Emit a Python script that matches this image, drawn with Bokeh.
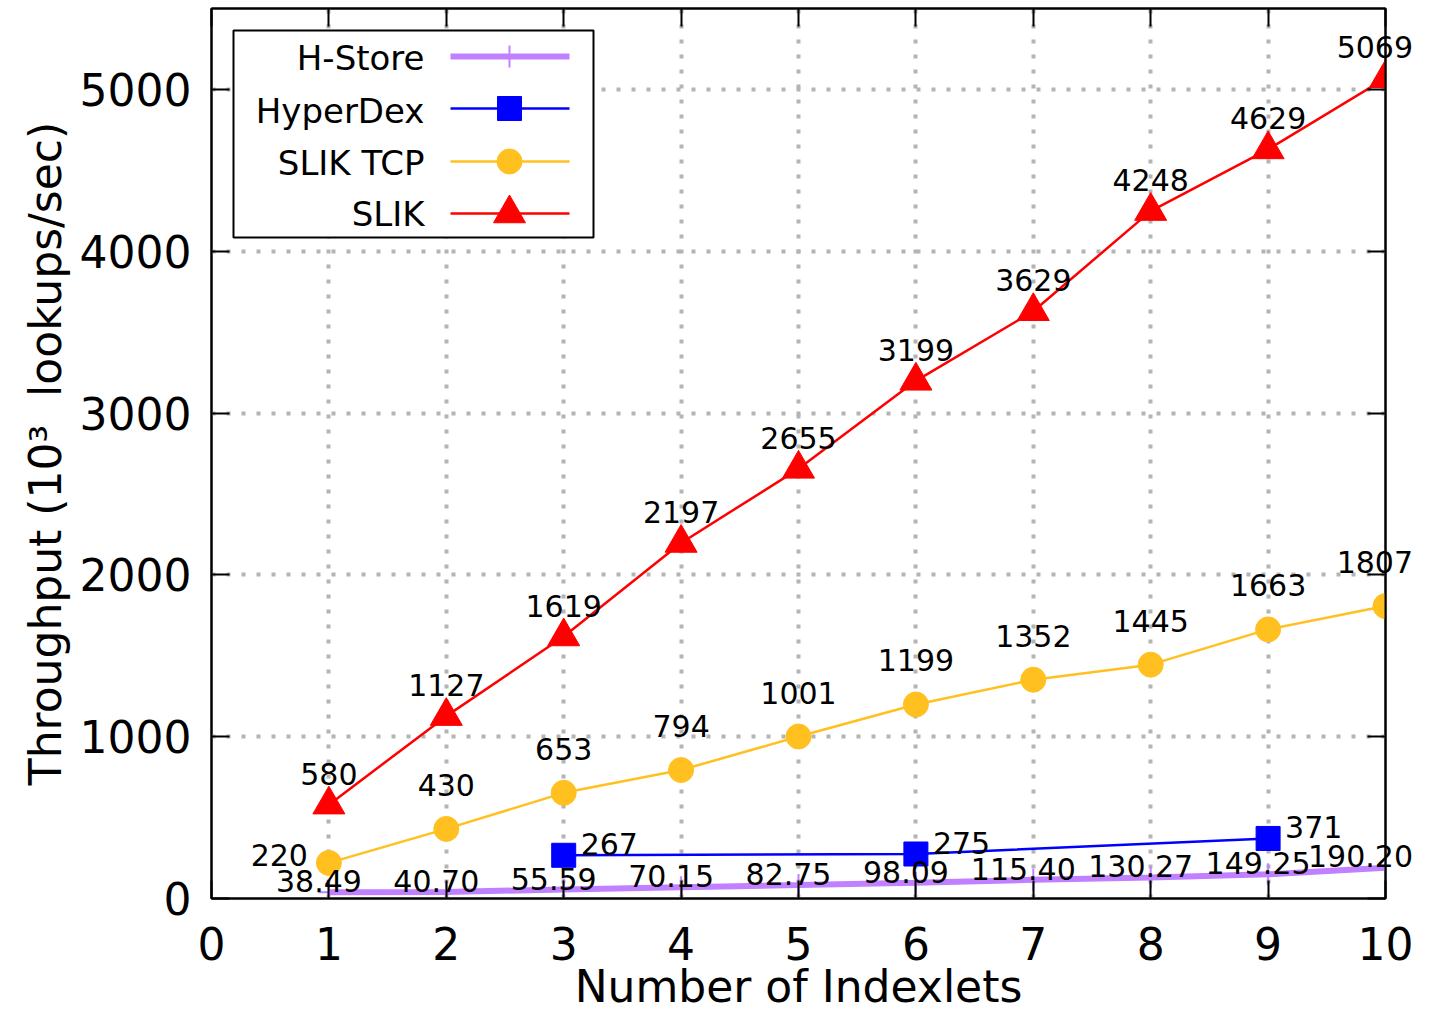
from bokeh.plotting import figure
from bokeh.models import FixedTicker, LinearAxis, ColumnDataSource, LabelSet
from bokeh.core.properties import value
from bokeh.embed import file_html
from bokeh.resources import INLINE
try:
    from bokeh.models import HTMLLabelSet
except Exception:  # fallback
    HTMLLabelSet = None

# ---------------- data ----------------
indexlets = [1, 2, 3, 4, 5, 6, 7, 8, 9, 10]
hstore = [38.49, 40.70, 55.59, 70.15, 82.75, 98.09, 115.40, 130.27, 149.25, 190.20]
hyperdex_x = [3, 6, 9]
hyperdex = [267, 275, 371]
slik_tcp = [220, 430, 653, 794, 1001, 1199, 1352, 1445, 1663, 1807]
slik = [580, 1127, 1619, 2197, 2655, 3199, 3629, 4248, 4629, 5069]
x_ticks = [0, 1, 2, 3, 4, 5, 6, 7, 8, 9, 10]
y_ticks = [0, 1000, 2000, 3000, 4000, 5000]
series_names = ["H-Store", "HyperDex", "SLIK TCP", "SLIK"]
x_title = "Number of Indexlets"
y_title = "Throughput (10\u00b3\u00a0 lookups/sec)"

# ---------------- style ----------------
FONT = "DejaVu Sans"
PURPLE = "#c080ff"
BLUE = "#0000ff"
GOLD = "#ffc020"
RED = "#ff0000"
GRID = "#b4b4b4"

W, H = 1415, 1014
XMIN, XMAX = 0, 10
YMIN, YMAX = 0, 5500
# frame position on the canvas (px)
FL, FR, FT, FB = 211, 1385, 8, 898


def dx(sx):
    return XMIN + (sx - FL) / (FR - FL) * (XMAX - XMIN)


def dy(sy):
    return YMIN + (FB - sy) / (FB - FT) * (YMAX - YMIN)


p = figure(width=W, height=H, x_range=(XMIN, XMAX), y_range=(YMIN, YMAX),
           output_backend="svg", toolbar_location=None,
           min_border_left=FL, min_border_right=W - FR,
           min_border_top=FT, min_border_bottom=H - FB)
p.background_fill_color = "white"
p.border_fill_color = "white"
p.outline_line_color = "black"
p.outline_line_width = 2

for ax in (p.xaxis[0], p.yaxis[0]):
    ax.major_label_text_font = FONT
    ax.major_label_text_font_size = "44px"
    ax.major_label_text_color = "black"
    ax.major_tick_in = 18
    ax.major_tick_out = 0
    ax.major_tick_line_width = 2
    ax.minor_tick_line_color = None
    ax.axis_line_width = 2
    ax.axis_label_text_font = FONT
    ax.axis_label_text_font_size = "44px"
    ax.axis_label_text_font_style = "normal"
    ax.axis_label_text_color = "black"

p.xaxis.ticker = FixedTicker(ticks=x_ticks)
p.yaxis.ticker = FixedTicker(ticks=y_ticks)
p.xaxis.major_label_standoff = 28
p.xaxis.axis_label = x_title
p.xaxis.axis_label_standoff = -2
p.yaxis.major_label_standoff = 20
p.yaxis.axis_label = y_title
p.yaxis.axis_label_standoff = 6

# mirror ticks (top / right), no labels
top = LinearAxis(ticker=FixedTicker(ticks=x_ticks))
right = LinearAxis(ticker=FixedTicker(ticks=y_ticks))
for ax in (top, right):
    ax.major_label_text_font_size = "1px"
    ax.major_label_text_color = None
    ax.major_label_standoff = 0
    ax.major_tick_in = 18
    ax.major_tick_out = 0
    ax.major_tick_line_width = 2
    ax.minor_tick_line_color = None
    ax.axis_line_width = 2
p.add_layout(top, "above")
p.add_layout(right, "right")

for g in (p.xgrid[0], p.ygrid[0]):
    g.grid_line_color = GRID
    g.grid_line_width = 4
    g.grid_line_dash = "4 11"
p.xgrid.ticker = FixedTicker(ticks=x_ticks)
p.ygrid.ticker = FixedTicker(ticks=y_ticks)

# ---------------- series ----------------
p.line(indexlets, hstore, line_color=PURPLE, line_width=6)
p.scatter(indexlets, hstore, marker="cross", size=22, line_color=PURPLE, line_width=2)

p.line(hyperdex_x, hyperdex, line_color=BLUE, line_width=2.5)
p.scatter(hyperdex_x, hyperdex, marker="square", size=24, fill_color=BLUE, line_color=BLUE)

p.line(indexlets, slik_tcp, line_color=GOLD, line_width=2.5)
p.scatter(indexlets, slik_tcp, marker="circle", size=25, fill_color=GOLD, line_color=GOLD)

p.line(indexlets, slik, line_color=RED, line_width=2.5)
p.scatter(indexlets, slik, marker="triangle", size=32, fill_color=RED, line_color=RED)

# ---------------- value labels ----------------
LBL = dict(text_font=value(FONT), text_font_size="30px", text_color="black",
           text_baseline="alphabetic")
HTML_DY = 11  # html labels sit a little lower than canvas labels for the same baseline


def labels(xs, ys, texts, align, xo, yo, html=False):
    src = ColumnDataSource(dict(x=xs, y=ys, t=texts))
    if html and HTMLLabelSet is not None:
        p.add_layout(HTMLLabelSet(x="x", y="y", text="t", source=src, text_align=align,
                                  x_offset=xo, y_offset=yo + HTML_DY, **LBL))
    else:
        p.add_layout(LabelSet(x="x", y="y", text="t", source=src, text_align=align,
                              x_offset=xo, y_offset=yo, **LBL))


# points inside the frame: canvas labels; points on the right edge: html labels (not clipped by frame)
h_txt = ["%.2f" % v for v in hstore]
t_txt = [str(v) for v in slik_tcp]
s_txt = [str(v) for v in slik]
labels(indexlets[:-1], hstore[:-1], h_txt[:-1], "center", -10, 0)
labels(indexlets[-1:], hstore[-1:], h_txt[-1:], "right", 28, 0, html=True)
labels(hyperdex_x, hyperdex, [str(v) for v in hyperdex], "left", 17, 0)
labels(indexlets[:1], slik_tcp[:1], t_txt[:1], "right", -21, -3)
labels(indexlets[1:-1], slik_tcp[1:-1], t_txt[1:-1], "center", 0, 33)
labels(indexlets[-1:], slik_tcp[-1:], t_txt[-1:], "right", 28, 33, html=True)
labels(indexlets[:-1], slik[:-1], s_txt[:-1], "center", 0, 20)
labels(indexlets[-1:], slik[-1:], s_txt[-1:], "right", 28, 20, html=True)

# ---------------- legend (gnuplot style: text left, sample right) ----------------
BOX_L, BOX_R, BOX_T, BOX_B = 233, 593, 30, 237
ROW_BASE = [69, 122, 174, 225]
ROW_LINE = [56, 108, 161, 213]
TEXT_R = 424
SAMPLE_L, SAMPLE_R, SAMPLE_M = 450, 569, 509

p.quad(left=[dx(BOX_L)], right=[dx(BOX_R)], top=[dy(BOX_T)], bottom=[dy(BOX_B)],
       fill_color="white", line_color="black", line_width=2)

styles = [
    dict(color=PURPLE, lw=6, marker="cross", size=22, mlw=2),
    dict(color=BLUE, lw=2.5, marker="square", size=24, mlw=1),
    dict(color=GOLD, lw=2.5, marker="circle", size=25, mlw=1),
    dict(color=RED, lw=2.5, marker="triangle", size=32, mlw=1),
]
for name, base, ly, st in zip(series_names, ROW_BASE, ROW_LINE, styles):
    p.line([dx(SAMPLE_L), dx(SAMPLE_R)], [dy(ly), dy(ly)], line_color=st["color"], line_width=st["lw"])
    p.scatter([dx(SAMPLE_M)], [dy(ly)], marker=st["marker"], size=st["size"],
              fill_color=st["color"], line_color=st["color"], line_width=st["mlw"])

leg_src = ColumnDataSource(dict(x=[dx(TEXT_R)] * len(series_names),
                                y=[dy(b) for b in ROW_BASE], t=series_names))
p.add_layout(LabelSet(x="x", y="y", text="t", source=leg_src, text_align="right",
                      text_baseline="alphabetic", text_font=value(FONT),
                      text_font_size="34px", text_color="black"))

open("out.html", "w").write(file_html(p, INLINE))
